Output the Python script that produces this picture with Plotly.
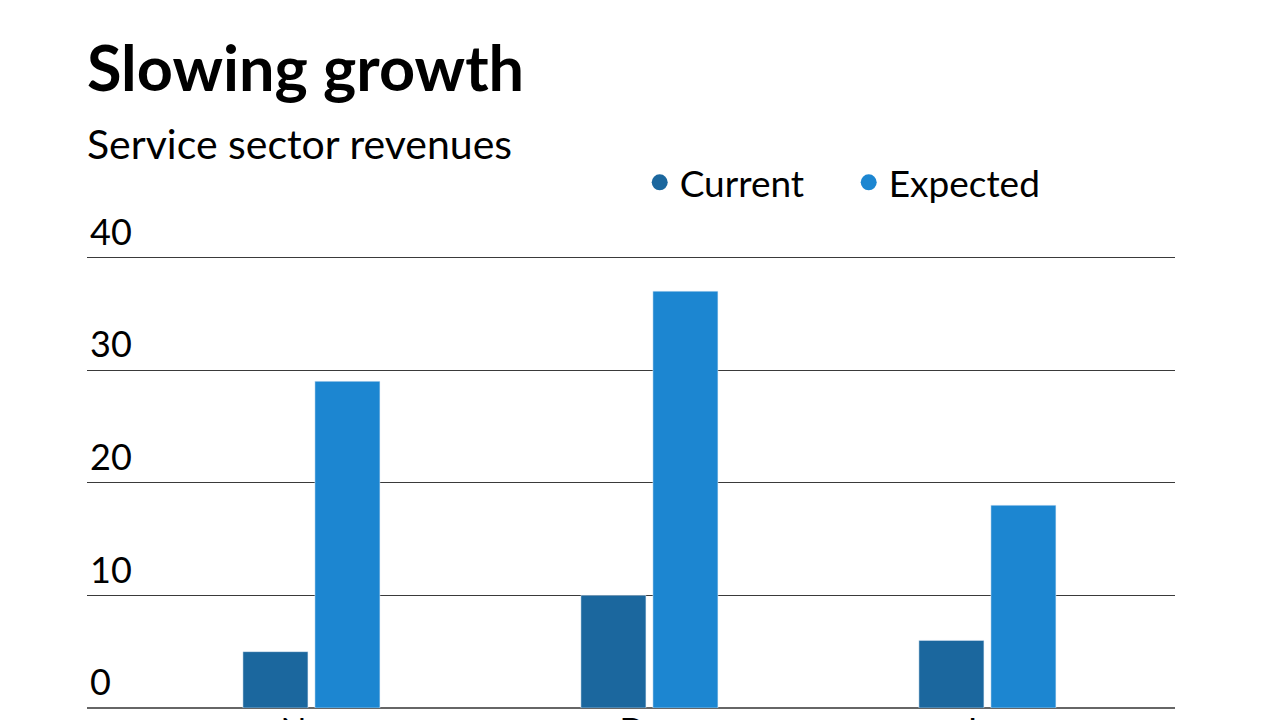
import plotly.graph_objects as go

# datos
months = ["Nov", "Dec", "Jan"]
current = [5, 10, 6]
expected = [29, 37, 18]
y_ticks = [0, 10, 20, 30, 40]

col_current = "#1b679e"
col_expected = "#1c86d1"
FONT = "Lato"

fig = go.Figure()
fig.add_trace(go.Bar(x=months, y=current, name="Current",
                     marker_color=col_current, showlegend=False))
fig.add_trace(go.Bar(x=months, y=expected, name="Expected",
                     marker_color=col_expected, showlegend=False))

# circulos para la leyenda
for name, c in [("Current", col_current), ("Expected", col_expected)]:
    fig.add_trace(go.Scatter(x=[None], y=[None], mode="markers", name=name,
                             marker=dict(symbol="circle", size=25, color=c)))

# la pagina tiene 8px de margen, se compensa aqui
fig.update_layout(
    width=1280, height=720,
    paper_bgcolor="white", plot_bgcolor="white",
    margin=dict(l=79, r=113, t=193, b=20),
    barmode="group", bargap=0.574, bargroupgap=0.097,
    font=dict(family=FONT, color="black"),
    showlegend=True,
    legend=dict(orientation="h", x=0.508, y=1.036, xanchor="left", yanchor="middle",
                font=dict(size=37, family=FONT, color="black"), itemwidth=30,
                entrywidth=164, bgcolor="rgba(0,0,0,0)"),
    xaxis=dict(range=[-0.664, 2.555], showgrid=False, showline=False, automargin=False,
               tickfont=dict(size=34, family=FONT, color="black"), ticks="", fixedrange=True),
    yaxis=dict(range=[0, 45], tickvals=y_ticks, showgrid=True, gridcolor="#3a3a3a",
               gridwidth=1, zeroline=True, zerolinecolor="#666666", zerolinewidth=2,
               ticklabelposition="inside top", automargin=False,
               tickfont=dict(size=36, family=FONT, color="black"),
               showline=False, ticks=""),
)

fig.add_annotation(text="<b>Slowing growth</b>", xref="paper", yref="paper",
                   x=0, y=1.0, xanchor="left", yanchor="top",
                   xshift=-2, yshift=174, showarrow=False,
                   font=dict(size=63, family=FONT, color="black"))
fig.add_annotation(text="Service sector revenues", xref="paper", yref="paper",
                   x=0, y=1.0, xanchor="left", yanchor="top",
                   xshift=-2, yshift=84, showarrow=False,
                   font=dict(size=41, family=FONT, color="black"))

fig.write_html("out.html")
